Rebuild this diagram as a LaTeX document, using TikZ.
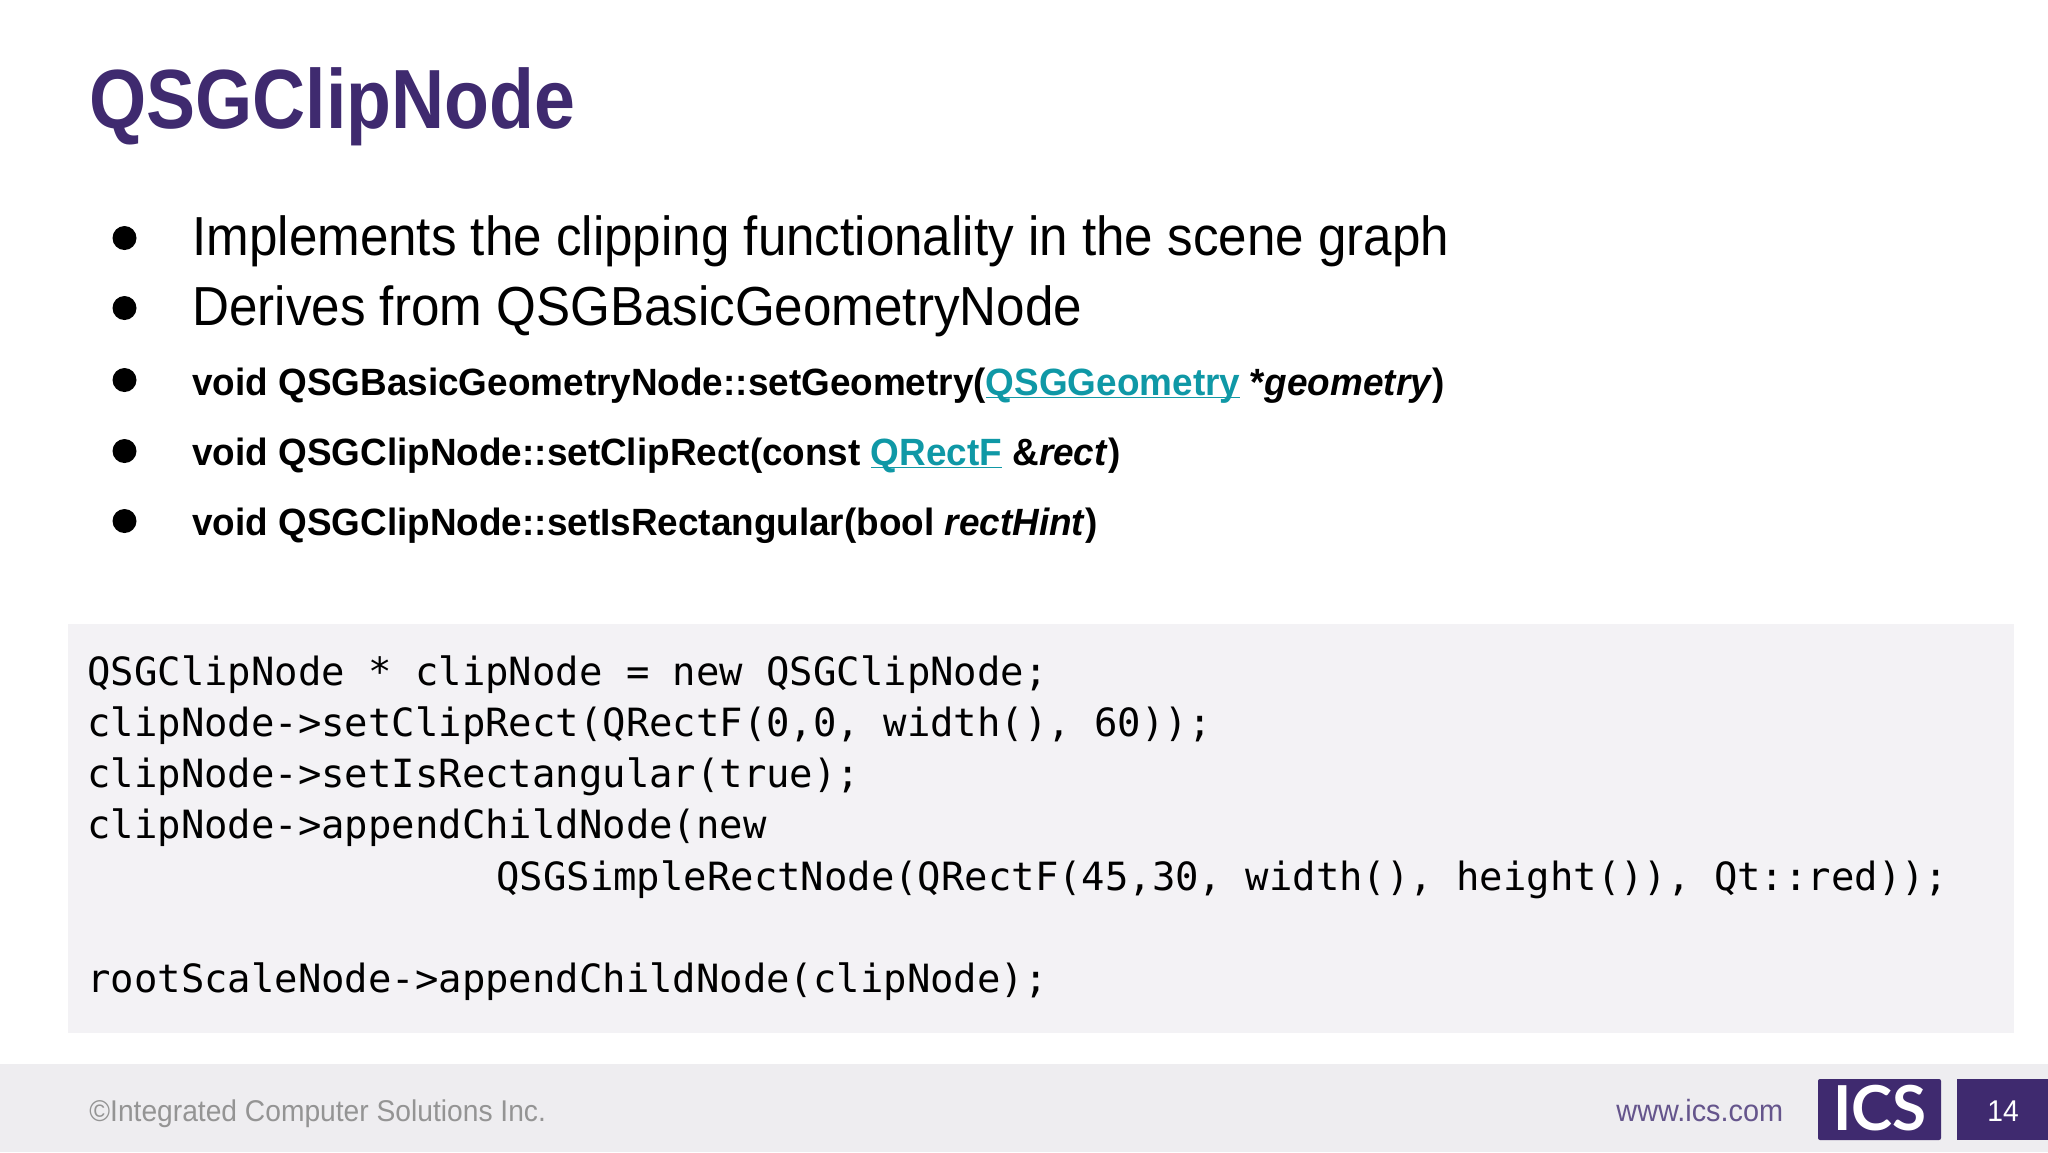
\documentclass[tikz,border=0pt]{standalone}
\usepackage{fontspec}
\setmainfont{Liberation Sans}
\newfontfamily\titlefont[FakeStretch=0.875]{Liberation Sans}
\newfontfamily\itemfont[FakeStretch=0.93]{Liberation Sans}
\newfontfamily\apifont[FakeStretch=0.971]{Liberation Sans}
\newfontfamily\footfont[FakeStretch=0.94]{Liberation Sans}
\newfontfamily\codefont{DejaVu Sans Mono}
\newfontfamily\logofont{Lato}
\definecolor{icspurple}{HTML}{3F2A6F}
\definecolor{codegray}{HTML}{F3F2F5}
\definecolor{footgray}{HTML}{EEEDF0}
\definecolor{linkteal}{HTML}{0F98A6}
\newcommand{\linktext}[1]{\textcolor{linkteal}{\underline{\smash{#1}}}}
\begin{document}
\begin{tikzpicture}[x=0.5pt,y=-0.5pt,
	every node/.style={inner sep=0,anchor=base west},
	titletext/.style={font=\titlefont\bfseries\fontsize{42}{50}\selectfont,text=icspurple},
	bigitem/.style={font=\itemfont\fontsize{27.5}{33}\selectfont,text=black},
	apiitem/.style={font=\apifont\bfseries\fontsize{19}{23}\selectfont,text=black},
	codeline/.style={font=\codefont\fontsize{19.45}{23}\selectfont,text=black},
	foottext/.style={font=\footfont\fontsize{15}{18}\selectfont},
	bulletdot/.style={fill=black}]
\useasboundingbox (0,0) rectangle (2048,1152);
\fill[white] (0,0) rectangle (2048,1152);
\fill[codegray] (68,624) rectangle (2014,1033);
\fill[footgray] (0,1064) rectangle (2048,1152);
\fill[icspurple,rounded corners=1pt] (1818,1079) rectangle (1941,1140);
\fill[icspurple] (1957,1079) rectangle (2048,1140);
\node[titletext] (title) at (89,128) {QSGClipNode};
% bullets
\foreach \ypos/\rad in {238/12,308/12,380/12,451/12,521/12}
	\fill[bulletdot] (124.5,\ypos) circle (\rad);
\node[bigitem] (implements) at (192,255) {Implements the clipping functionality in the scene graph};
\node[bigitem] (derives) at (192,325) {Derives from QSGBasicGeometryNode};
\node[apiitem] (setgeometry) at (192,395) {void QSGBasicGeometryNode::setGeometry(\linktext{QSGGeometry} *\textit{geometry})};
\node[apiitem] (setcliprect) at (192,465) {void QSGClipNode::setClipRect(const \linktext{QRectF} \&\textit{rect})};
\node[apiitem] (setrecthint) at (192,535) {void QSGClipNode::setIsRectangular(bool \textit{rectHint})};
% code block
\node[codeline] (codea) at (87,685) {QSGClipNode * clipNode = new QSGClipNode;};
\node[codeline] (codeb) at (87,736) {clipNode->setClipRect(QRectF(0,0, width(), 60));};
\node[codeline] (codec) at (87,787) {clipNode->setIsRectangular(true);};
\node[codeline] (coded) at (87,838) {clipNode->appendChildNode(new};
\node[codeline] (codee) at (496,890) {QSGSimpleRectNode(QRectF(45,30, width(), height()), Qt::red));};
\node[codeline] (codef) at (87,992) {rootScaleNode->appendChildNode(clipNode);};
% footer
\node[foottext,text=black!42] (copyright) at (89,1121) {©Integrated Computer Solutions Inc.};
\node[font=\footfont\fontsize{15.35}{18}\selectfont,text=icspurple!80] (website) at (1616,1121) {www.ics.com};
\node[font=\logofont\bfseries\fontsize{31}{38}\selectfont,text=white,anchor=base] (logo) at (1880,1130) {ICS};
\node[foottext,text=white,anchor=base] (pagenum) at (2003,1121) {14};
\end{tikzpicture}
\end{document}
